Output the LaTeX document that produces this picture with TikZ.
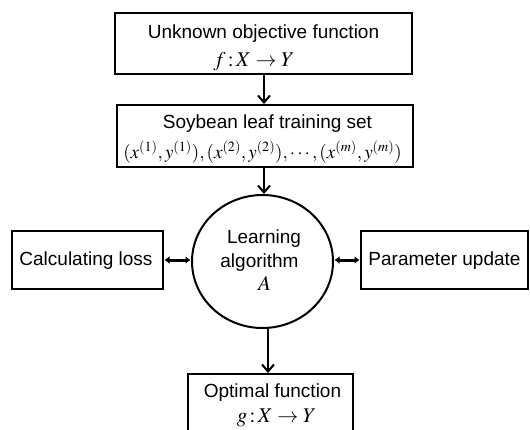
\documentclass[tikz,border=0pt]{standalone}
\usepackage{mathptmx}
\usepackage{fontspec}
\setmainfont{Liberation Sans}
\usetikzlibrary{arrows.meta,shapes.geometric}
\tikzset{
  box/.style={draw, line width=2pt, inner sep=0pt},
  circ/.style={draw, ellipse, line width=2pt, inner sep=0pt},
  txt/.style={anchor=base, inner sep=0pt, font=\fontsize{19}{19}\selectfont},
  mth/.style={anchor=base, inner sep=0pt, font=\fontsize{21}{21}\selectfont},
  mths/.style={anchor=base, inner sep=0pt, font=\fontsize{19}{19}\selectfont},
  flow/.style={line width=2pt, -{Straight Barb[length=7pt,width=12pt,line width=2pt]}},
  dbl/.style={line width=3pt, {Latex[length=5pt,width=8pt]}-{Latex[length=5pt,width=8pt]}, shorten <=0.5pt, shorten >=0.5pt}
}
\begin{document}
\begin{tikzpicture}[x=1pt,y=-1pt]
\useasboundingbox (0,0) rectangle (530,429);
% boxes
\node[box, minimum width=297pt, minimum height=61pt] (b1) at (263.5,43.5) {};
\node[box, minimum width=296pt, minimum height=62pt] (b2) at (265,136) {};
\node[circ, minimum width=141pt, minimum height=133pt] (al) at (262.5,261.5) {};
\node[box, minimum width=151pt, minimum height=58pt] (cl) at (87.5,260) {};
\node[box, minimum width=167pt, minimum height=58pt] (pu) at (444.5,260) {};
\node[box, minimum width=165pt, minimum height=60pt] (of) at (270.5,404) {};
% texts
\node[txt] (t1) at (263.5,38) {Unknown objective function};
\node[mth] (m1) at (254,66) {$f\,{:}\,X\to Y$};
\node[txt] (t2) at (267.5,128) {Soybean leaf training set};
\node[mths] (m2) at (262.5,158) {$(x^{(1)},y^{(1)}),(x^{(2)},y^{(2)}),\cdots,(x^{(m)},y^{(m)})$};
\node[txt] (t3) at (264,243) {Learning};
\node[txt] (t4) at (259.5,267) {algorithm};
\node[mth] (m3) at (264.5,290) {$A$};
\node[txt] (t5) at (86,265) {Calculating loss};
\node[txt] (t6) at (444.5,265) {Parameter update};
\node[txt] (t7) at (272.5,397) {Optimal function};
\node[mth] (m4) at (276.5,422) {$g\,{:}\,X\to Y$};
% connectors
\coordinate (x1) at (264,0);
\coordinate (x2) at (268,0);
\draw[flow] (b1.south -| x1) -- (b2.north -| x1);
\draw[flow] (b2.south -| x1) -- (al.north -| x1);
\draw[flow] (al.south -| x2) -- (of.north -| x2);
\draw[dbl] (cl.east) -- (cl.east -| al.west);
\draw[dbl] (al.east |- pu.west) -- (pu.west);
\end{tikzpicture}
\end{document}
